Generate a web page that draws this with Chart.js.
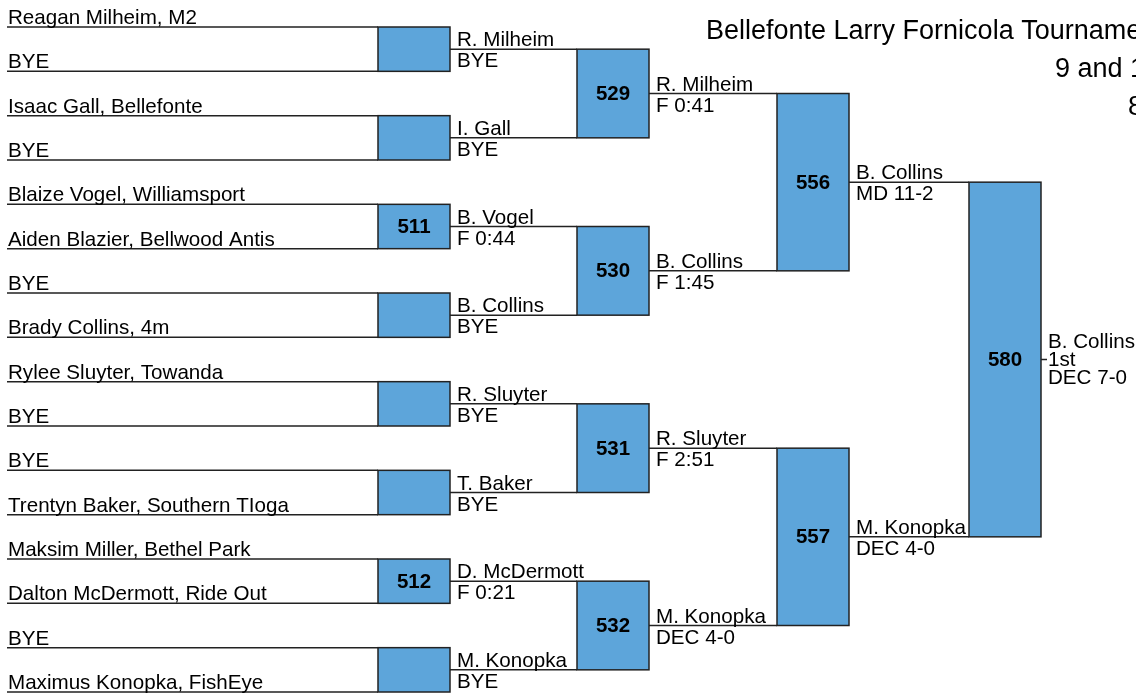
<!DOCTYPE html>
<html>
<head>
<meta charset="utf-8">
<script src="https://cdn.jsdelivr.net/npm/chart.js@4.4.1/dist/chart.umd.min.js"></script>
<style>
  html, body { margin: 0; padding: 0; background: #fff; overflow: hidden; }
  #bracket { display: block; }
</style>
</head>
<body>
<canvas id="bracket" width="1136" height="698"></canvas>
<script>
/* =========================
   DATA
========================= */

const entrants = [
  "Reagan Milheim, M2", "BYE",
  "Isaac Gall, Bellefonte", "BYE",
  "Blaize Vogel, Williamsport", "Aiden Blazier, Bellwood Antis",
  "BYE", "Brady Collins, 4m",
  "Rylee Sluyter, Towanda", "BYE",
  "BYE", "Trentyn Baker, Southern TIoga",
  "Maksim Miller, Bethel Park", "Dalton McDermott, Ride Out",
  "BYE", "Maximus Konopka, FishEye",
];

const round1Bouts = ["", "", "511", "", "", "", "512", ""];
const round1Winners = ["R. Milheim", "I. Gall", "B. Vogel", "B. Collins", "R. Sluyter", "T. Baker", "D. McDermott", "M. Konopka"];
const round1Results = ["BYE", "BYE", "F 0:44", "BYE", "BYE", "BYE", "F 0:21", "BYE"];

const round2Bouts = ["529", "530", "531", "532"];
const round2Winners = ["R. Milheim", "B. Collins", "R. Sluyter", "M. Konopka"];
const round2Results = ["F 0:41", "F 1:45", "F 2:51", "DEC 4-0"];

const round3Bouts = ["556", "557"];
const round3Winners = ["B. Collins", "M. Konopka"];
const round3Results = ["MD 11-2", "DEC 4-0"];

const finalBouts = ["580"];
const finalWinners = ["B. Collins"];
const finalResults = ["DEC 7-0"];
const finalPlace = "1st";

const titleLines = ["Bellefonte Larry Fornicola Tournament", "9 and 10", "80"];

/* =========================
   LAYOUT
========================= */

const FONT = '"Liberation Sans", Arial, sans-serif';
const INK = "#222";
const BOX_FILL = "#5da5da";
const lineStart = 7;
const boxLeft = [378, 577, 777, 969];
const boxWidth = 72;
const finalTick = 6;

/* =========================
   BRACKET STRUCTURE
========================= */

const bouts = [round1Bouts, round2Bouts, round3Bouts, finalBouts];
const winners = [round1Winners, round2Winners, round3Winners, finalWinners];
const results = [round1Results, round2Results, round3Results, finalResults];

const rounds = [];
bouts.forEach((list, r) => {
  const prev = rounds[r - 1];
  rounds.push(list.map((bout, k) => {
    const top = r === 0 ? 2 * k : prev[2 * k].mid;
    const bottom = r === 0 ? 2 * k + 1 : prev[2 * k + 1].mid;
    return { bout, top, bottom, mid: (top + bottom) / 2, winner: winners[r][k], result: results[r][k] };
  }));
});

// connector segments, split by a null y so the line breaks
const segments = [];
function segment(x1, x2, y) {
  segments.push({ x: x1, y: y }, { x: x2, y: y }, { x: x2, y: null });
}
entrants.forEach((name, i) => segment(lineStart, boxLeft[0], i));
rounds.forEach((matches, r) => {
  matches.forEach((m) => {
    const x1 = boxLeft[r] + boxWidth;
    const x2 = r < rounds.length - 1 ? boxLeft[r + 1] : x1 + finalTick;
    segment(x1, x2, m.mid);
  });
});

/* =========================
   DRAWING PLUGIN
========================= */

const bracketPlugin = {
  id: "bracket",
  afterDatasetsDraw(chart) {
    const ctx = chart.ctx;
    const xs = chart.scales.x;
    const ys = chart.scales.y;
    const px = (v) => xs.getPixelForValue(v);
    const py = (v) => ys.getPixelForValue(v);

    ctx.save();

    // boxes
    rounds.forEach((matches, r) => {
      matches.forEach((m) => {
        const x1 = px(boxLeft[r]);
        const x2 = px(boxLeft[r] + boxWidth);
        const y1 = py(m.top);
        const y2 = py(m.bottom);
        ctx.fillStyle = BOX_FILL;
        ctx.fillRect(x1, y1, x2 - x1, y2 - y1);
        ctx.strokeStyle = INK;
        ctx.lineWidth = 1.5;
        ctx.strokeRect(x1, y1, x2 - x1, y2 - y1);
        if (m.bout) {
          ctx.fillStyle = "#000";
          ctx.font = "bold 20.5px " + FONT;
          ctx.textAlign = "center";
          ctx.textBaseline = "middle";
          ctx.fillText(m.bout, (x1 + x2) / 2, py(m.mid) + 1);
        }
      });
    });

    ctx.fillStyle = "#000";
    ctx.textAlign = "left";
    ctx.textBaseline = "alphabetic";
    ctx.font = "20.6px " + FONT;

    // entrant names
    entrants.forEach((name, i) => {
      ctx.fillText(name, px(lineStart) + 1, py(i) - 3);
    });

    // winners + results
    rounds.forEach((matches, r) => {
      const x = px(boxLeft[r] + boxWidth) + 7;
      matches.forEach((m) => {
        const y = py(m.mid);
        if (r < rounds.length - 1) {
          ctx.fillText(m.winner, x, y - 3);
          ctx.fillText(m.result, x, y + 18);
        } else {
          ctx.fillText(m.winner, x, y - 12);
          ctx.fillText(finalPlace, x, y + 6);
          ctx.fillText(m.result, x, y + 24);
        }
      });
    });

    // title block
    ctx.font = "27px " + FONT;
    ctx.fillText(titleLines[0], 706, 39);
    ctx.fillText(titleLines[1], 1055, 77);
    ctx.fillText(titleLines[2], 1128, 115);

    ctx.restore();
  },
};

/* =========================
   CHART
========================= */

const pitch = 665 / 15;

new Chart(document.getElementById("bracket"), {
  type: "scatter",
  data: {
    datasets: [
      {
        label: "bracket",
        data: segments,
        showLine: true,
        spanGaps: false,
        borderColor: INK,
        borderWidth: 1.5,
        pointRadius: 0,
        fill: false,
      },
    ],
  },
  options: {
    responsive: false,
    animation: false,
    events: [],
    layout: { padding: 0 },
    scales: {
      x: { type: "linear", min: 0, max: 1136, display: false },
      y: { type: "linear", min: -27 / pitch, max: 15 + 6 / pitch, reverse: true, display: false },
    },
    plugins: {
      legend: { display: false },
      tooltip: { enabled: false },
    },
  },
  plugins: [bracketPlugin],
});
</script>
</body>
</html>
